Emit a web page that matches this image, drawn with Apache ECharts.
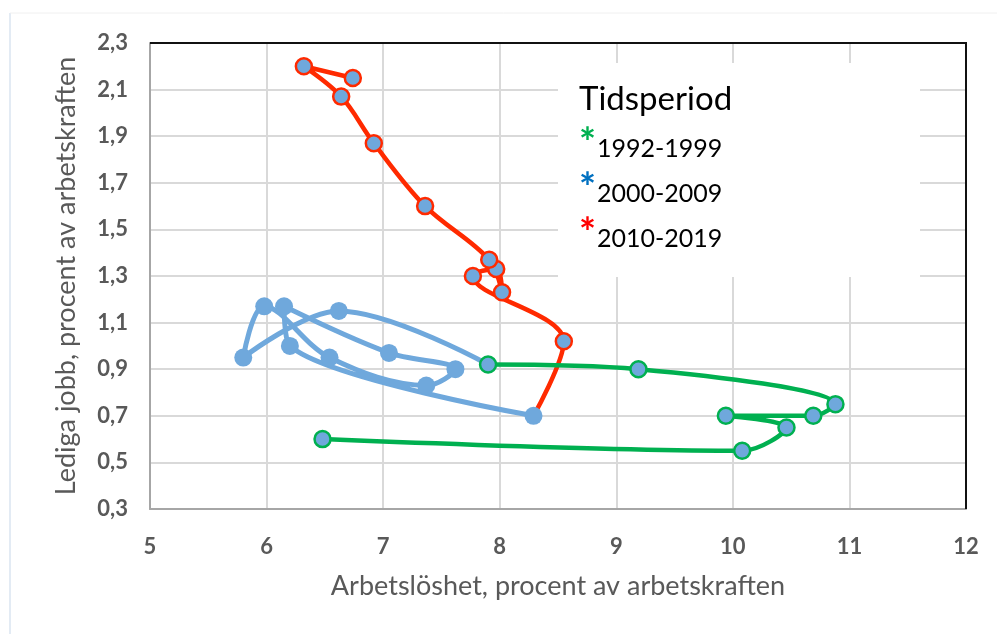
<!DOCTYPE html>
<html lang="sv">
<head>
  <meta charset="UTF-8">
  <title>Arbetslöshet och lediga jobb</title>
  <script src="https://cdn.jsdelivr.net/npm/echarts@6/dist/echarts.min.js"></script>
  <style>
    body { margin: 0; background: #fff; }
  </style>
</head>
<body>
  <div id="main" style="width: 997px;height:634px;"></div>

  <script>
    // arbetslöshet (x) och lediga jobb (y), procent av arbetskraften
    var unemp9299 = [6.48, 10.08, 10.46, 9.94, 10.69, 10.88, 9.19, 7.90];
    var vac9299 = [0.60, 0.55, 0.65, 0.70, 0.70, 0.75, 0.90, 0.92];
    // 2000-2009, första punkten är 1999 så att linjen hänger ihop
    var unemp0009 = [7.90, 6.62, 5.80, 5.98, 6.54, 7.37, 7.62, 7.05, 6.15, 6.20, 8.29];
    var vac0009 = [0.92, 1.15, 0.95, 1.17, 0.95, 0.83, 0.90, 0.97, 1.17, 1.00, 0.70];
    // 2010-2019, första punkten är 2009
    var unemp1019 = [8.29, 8.55, 7.77, 7.97, 8.02, 7.91, 7.36, 6.92, 6.64, 6.32, 6.74];
    var vac1019 = [0.70, 1.02, 1.30, 1.33, 1.23, 1.37, 1.60, 1.87, 2.07, 2.20, 2.15];

    var periods = ['1992-1999', '2000-2009', '2010-2019'];
    var starColors = ['#00b050', '#0070c0', '#ff0000'];

    var fill = '#6fa8dc';
    var font = 'Lato, "Open Sans", sans-serif';

    function points(xs, ys, hideFirst) {
      var out = [];
      for (var i = 0; i < xs.length; i++) {
        var p = { value: [xs[i], ys[i]] };
        if (hideFirst && i === 0) p.symbol = 'none';
        out.push(p);
      }
      return out;
    }

    var myChart = echarts.init(document.getElementById('main'));

    // ram, svart kant upptill/höger, och legendrutan
    var graphics = [
      { type: 'line', shape: { x1: 10, y1: 13, x2: 10, y2: 634 }, style: { stroke: '#e3ebf4', lineWidth: 2 } },
      { type: 'line', shape: { x1: 10, y1: 13, x2: 997, y2: 13 }, style: { stroke: '#f0f0f0', lineWidth: 1 } },
      { type: 'line', shape: { x1: 150, y1: 43, x2: 967, y2: 43 }, style: { stroke: '#111', lineWidth: 2 }, z: 40 },
      { type: 'line', shape: { x1: 966, y1: 43, x2: 966, y2: 509 }, style: { stroke: '#111', lineWidth: 2 }, z: 40 },
      { type: 'rect', shape: { x: 558, y: 63, width: 362, height: 214 }, style: { fill: '#fff' }, z: 50 },
      { type: 'text', x: 579, y: 116, z: 51, style: { text: 'Tidsperiod', font: '33px ' + font, fill: '#000', verticalAlign: 'bottom' } }
    ];
    var baselines = [156, 201, 246];
    for (var i = 0; i < periods.length; i++) {
      graphics.push({ type: 'text', x: 579, y: baselines[i] - 12, z: 51,
        style: { text: '*', font: 'bold 40px ' + font, fill: starColors[i], verticalAlign: 'middle' } });
      graphics.push({ type: 'text', x: 597, y: baselines[i] + 5, z: 51,
        style: { text: periods[i], font: '25px ' + font, fill: '#000', verticalAlign: 'bottom' } });
    }

    var option = {
      animation: false,
      grid: {
        left: 150, right: 31, top: 43, bottom: 125
      },
      xAxis: {
        type: 'value',
        min: 5, max: 12, interval: 1,
        name: 'Arbetslöshet, procent av arbetskraften',
        nameLocation: 'middle',
        nameGap: 64,
        nameTextStyle: { fontFamily: font, fontSize: 27, color: '#595959' },
        axisLine: { lineStyle: { color: '#a6a6a6', width: 2 } },
        axisTick: { show: false },
        axisLabel: { margin: 27, fontFamily: font, fontSize: 22, fontWeight: 'bold', color: '#595959' },
        splitLine: { lineStyle: { color: '#d9d9d9', width: 2 } }
      },
      yAxis: {
        type: 'value',
        min: 0.3, max: 2.3, interval: 0.2,
        name: 'Lediga jobb, procent av arbetskraften',
        nameLocation: 'middle',
        nameGap: 70,
        nameTextStyle: { fontFamily: font, fontSize: 27, color: '#595959' },
        axisLine: { show: true, lineStyle: { color: '#a6a6a6', width: 2 } },
        axisTick: { show: false },
        axisLabel: {
          margin: 22, fontFamily: font, fontSize: 22, fontWeight: 'bold', color: '#595959',
          formatter: function (v) { return v.toFixed(1).replace('.', ','); }
        },
        splitLine: { lineStyle: { color: '#d9d9d9', width: 2 } }
      },
      graphic: graphics,
      series: [{
        name: '2010-2019',
        type: 'line',
        smooth: 0.35,
        symbol: 'circle',
        symbolSize: 16,
        lineStyle: { color: '#ff2a00', width: 4.5 },
        itemStyle: { color: fill, borderColor: '#ff2a00', borderWidth: 2.5 },
        data: points(unemp1019, vac1019, true)
      }, {
        name: '2000-2009',
        type: 'line',
        smooth: 0.35,
        symbol: 'circle',
        symbolSize: 18,
        lineStyle: { color: fill, width: 5 },
        itemStyle: { color: fill, borderWidth: 0 },
        data: points(unemp0009, vac0009, true)
      }, {
        name: '1992-1999',
        type: 'line',
        smooth: 0.35,
        symbol: 'circle',
        symbolSize: 16,
        lineStyle: { color: '#00b050', width: 4.5 },
        itemStyle: { color: fill, borderColor: '#00b050', borderWidth: 2.5 },
        data: points(unemp9299, vac9299, false)
      }]
    };

    myChart.setOption(option);
  </script>
</body>
</html>
